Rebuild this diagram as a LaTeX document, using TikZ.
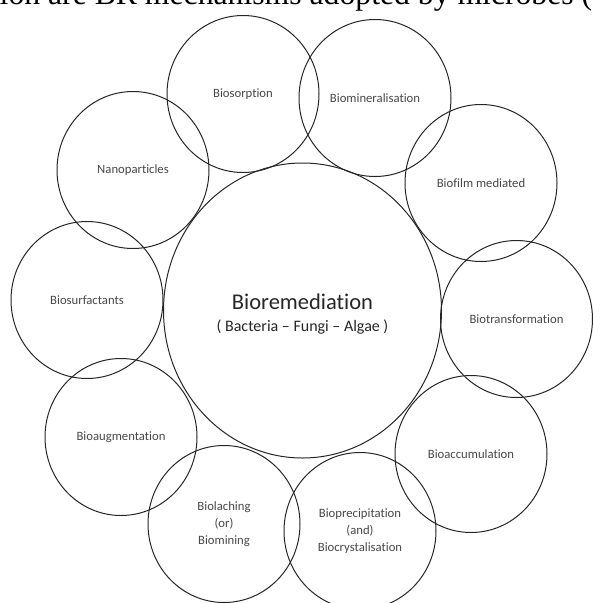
\documentclass[tikz,border=0pt]{standalone}
\usepackage{fontspec}
\setmainfont{Liberation Serif}
\setsansfont{Carlito}[Ligatures=NoCommon]
\usetikzlibrary{shapes.geometric}
\begin{document}
\begin{tikzpicture}[x=1pt,y=-1pt,
        mech/.style={ellipse,draw=black!85,line width=1pt,minimum width=152pt,minimum height=157pt,inner sep=0pt,align=center,text=black!72,font=\sffamily\fontsize{12.7}{17}\selectfont},
        core/.style={ellipse,draw=black!85,line width=1pt,minimum width=278pt,minimum height=295pt,inner sep=0pt},
        title/.style={inner sep=0pt,text=black!85,font=\sffamily}]

        \useasboundingbox (0,0) rectangle (593,603);
        \clip (0,0) rectangle (593,603);

        % cut-off line of the running text above
        \node[anchor=base west,inner sep=0pt,font=\rmfamily\fontsize{31.7}{32}\selectfont] (caption) at (-0.5,4.5) {ion are BR mechanisms adopted by microbes (};

        \node[core] (bio) at (302.5,310.5) {};
        \node[title,font=\sffamily\fontsize{22.5}{26}\selectfont] (biotitle) at (302.5,302) {Bioremediation};
        \node[title,font=\sffamily\fontsize{16}{19}\selectfont] (biosub) at (302.5,327) {( Bacteria -- Fungi -- Algae )};

        % ring of mechanisms
        \node[mech] (sorp) at (243,94) {Biosorption};
        \node[mech] (mineral) at (375,98) {Biomineralisation};
        \node[mech] (film) at (481,183) {Biofilm mediated};
        \node[mech] (transf) at (516.5,319) {Biotransformation};
        \node[mech] (accum) at (471,454) {Bioaccumulation};
        \node[mech] (precip) at (360,531) {Bioprecipitation\\(and)\\Biocrystalisation};
        \node[mech] (leach) at (224,524) {Biolaching\\(or)\\Biomining};
        \node[mech] (augm) at (121,437) {Bioaugmentation};
        \node[mech] (surf) at (87,300) {Biosurfactants};
        \node[mech] (nano) at (133,170) {Nanoparticles};
    \end{tikzpicture}
\end{document}
